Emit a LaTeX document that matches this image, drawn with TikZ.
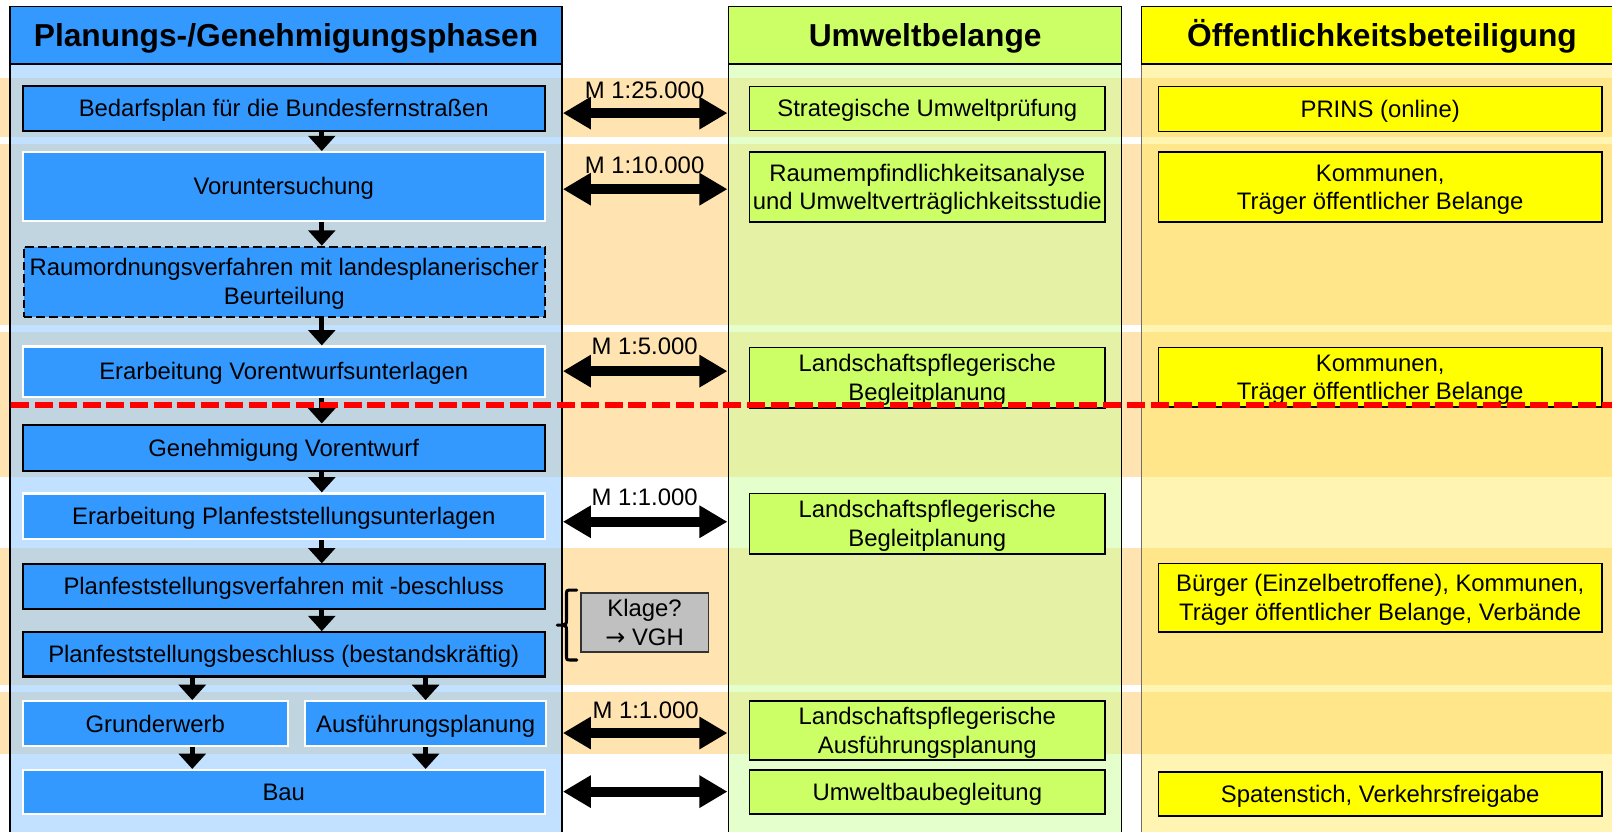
\documentclass[tikz,border=0pt]{standalone}
\usepackage{fontspec}
\setmainfont{Liberation Sans}
\newfontfamily\arrowfont{DejaVu Sans}
\usetikzlibrary{arrows.meta,calc}
\definecolor{bandorange}{RGB}{255,228,178}
\definecolor{blueA}{RGB}{51,153,255}
\definecolor{blueBody}{RGB}{153,204,255}
\definecolor{greenA}{RGB}{204,255,102}
\definecolor{greenBody}{RGB}{204,255,153}
\definecolor{yellowA}{RGB}{255,255,0}
\definecolor{yellowBody}{RGB}{255,233,102}
\definecolor{klagegray}{RGB}{192,192,192}
\definecolor{framegray}{RGB}{110,110,110}
\newcommand\pstrut{\rule[-0.212em]{0pt}{1.117em}}
\newcommand\bx[7]{\node[#1,minimum width={(#4-#2)*0.771pt},minimum height={(#5-#3)*0.771pt}] (#6) at ({(#2+#4)/2},{(#3+#5)/2}) {\pstrut#7\pstrut};}
\tikzset{
  txt/.style={font=\fontsize{17.9pt}{21.5pt}\selectfont, align=center, inner sep=0pt, text=black},
  hdr/.style={font=\fontsize{23.8pt}{28pt}\selectfont\bfseries, align=center, inner sep=0pt, draw=black, line width=1.2pt},
  phase/.style={txt, fill=blueA, line width=1.6pt},
  phaseblack/.style={phase, draw=black},
  phasewhite/.style={phase, draw=white},
  phasedash/.style={phase, draw=black, dash pattern=on 6.5pt off 3pt},
  envbox/.style={txt, fill=greenA, draw=black, line width=1.2pt},
  pubbox/.style={txt, fill=yellowA, draw=black, line width=1.2pt},
  klagebox/.style={txt, fill=klagegray, draw=black!80, line width=1.2pt},
  flow/.style={line width=4pt, -{Triangle[width=20pt,length=11.5pt]}},
  scalearrow/.style={line width=7.5pt, {Triangle[width=23pt,length=21pt]}-{Triangle[width=23pt,length=21pt]}},
  redline/.style={red, line width=4.3pt, dash pattern=on 13.5pt off 4.3pt},
  bandfill/.style={fill=bandorange},
  bracket/.style={line width=2.3pt, line cap=round},
}
\begin{document}
\begin{tikzpicture}[x=0.771pt,y=-0.771pt]
\useasboundingbox (0,0) rectangle (1568,809);
\clip (0,0) rectangle (1568,809);
% horizontal bands
\fill[bandfill] (0,76) rectangle (1568,133);
\fill[bandfill] (0,140) rectangle (1568,316);
\fill[bandfill] (0,323) rectangle (1568,464);
\fill[bandfill] (0,533) rectangle (1568,666);
\fill[bandfill] (0,673) rectangle (1568,733);
% column bodies
\fill[blueBody, fill opacity=0.6] (9.7,62) rectangle (546.7,815);
\fill[greenBody, fill opacity=0.5] (708.8,62) rectangle (1091,815);
\fill[yellowBody, fill opacity=0.5] (1110.5,62) rectangle (1590,815);
% column frames
\draw[black, line width=1.2pt] (9.7,62) -- (9.7,815) (546.7,62) -- (546.7,815);
\draw[black, line width=1.2pt] (708.8,62) -- (708.8,815) (1091,62) -- (1091,815);
\draw[framegray, line width=1.2pt] (1110.5,62) -- (1110.5,815);
% headers
\bx{hdr, fill=blueA}{9.7}{6.5}{546.7}{62}{h1}{Planungs-/Genehmigungsphasen}
\bx{hdr, fill=greenA}{708.8}{6.5}{1091}{62}{h2}{Umweltbelange}
\bx{hdr, fill=yellowA}{1110.5}{6.5}{1578}{62}{h3}{Öffentlichkeitsbeteiligung}
% phase boxes
\bx{phaseblack}{22}{84}{530}{127}{b1}{Bedarfsplan für die Bundesfernstraßen}
\bx{phasewhite}{22}{148}{530}{215}{b2}{Voruntersuchung}
\bx{phasedash}{23}{240}{530}{308}{b3}{Raumordnungsverfahren mit landesplanerischer\\Beurteilung}
\bx{phasewhite}{22}{337}{530}{386}{b4}{Erarbeitung Vorentwurfsunterlagen}
\bx{phaseblack}{22}{413}{530}{458}{b5}{Genehmigung Vorentwurf}
\bx{phasewhite}{22}{480}{530}{524}{b6}{Erarbeitung Planfeststellungsunterlagen}
\bx{phaseblack}{22}{549}{530}{592}{b7}{Planfeststellungsverfahren mit -beschluss}
\bx{phaseblack}{22}{615}{530}{658}{b8}{Planfeststellungsbeschluss (bestandskräftig)}
\bx{phasewhite}{22}{682}{280}{726}{gw}{Grunderwerb}
\bx{phasewhite}{297}{682}{531}{726}{ap}{Ausführungsplanung}
\bx{phasewhite}{22}{749}{530}{792}{bau}{Bau}
% environment boxes
\bx{envbox}{729}{84}{1075}{127}{g1}{Strategische Umweltprüfung}
\bx{envbox}{729}{148}{1075}{216}{g2}{Raumempfindlichkeitsanalyse\\und Umweltverträglichkeitsstudie}
\bx{envbox}{729}{338}{1075}{397}{g3}{Landschaftspflegerische\\Begleitplanung}
\bx{envbox}{729}{480}{1075}{539}{g4}{Landschaftspflegerische\\Begleitplanung}
\bx{envbox}{729}{682}{1075}{739}{g5}{Landschaftspflegerische\\Ausführungsplanung}
\bx{envbox}{729}{749}{1075}{792}{g6}{Umweltbaubegleitung}
% public boxes
\bx{pubbox}{1127}{84}{1558}{128}{p1}{PRINS (online)}
\bx{pubbox}{1127}{148}{1558}{216}{p2}{Kommunen,\\Träger öffentlicher Belange}
\bx{pubbox}{1127}{338}{1558}{396}{p3}{Kommunen,\\Träger öffentlicher Belange}
\bx{pubbox}{1127}{548}{1558}{615}{p4}{Bürger (Einzelbetroffene), Kommunen,\\Träger öffentlicher Belange, Verbände}
\bx{pubbox}{1127}{751}{1558}{794}{p5}{Spatenstich, Verkehrsfreigabe}
% Klage
\bx{klagebox}{565}{577}{689}{634}{kl}{Klage?\\{\arrowfont →} VGH}
\draw[bracket] (561,574) -- (556,574) .. controls (551,574) .. (551,579) -- (551,603)
  .. controls (551,607) .. (546,608) -- (542,608)
  (546,608) .. controls (551,609) .. (551,613) -- (551,637) .. controls (551,642) .. (556,642) -- (561,642);
% flow arrows
\coordinate (ax) at (313,0);
\coordinate (al) at (187,0);
\coordinate (ar) at (414,0);
\draw[flow] (b1.south -| ax) -- (b2.north -| ax);
\draw[flow] (b2.south -| ax) -- (b3.north -| ax);
\draw[flow] (b3.south -| ax) -- (b4.north -| ax);
\draw[flow] (b4.south -| ax) -- (b5.north -| ax);
\draw[flow] (b5.south -| ax) -- (b6.north -| ax);
\draw[flow] (b6.south -| ax) -- (b7.north -| ax);
\draw[flow] (b7.south -| ax) -- (b8.north -| ax);
\draw[flow] (b8.south -| al) -- (gw.north -| al);
\draw[flow] (b8.south -| ar) -- (ap.north -| ar);
\draw[flow] (gw.south -| al) -- (bau.north -| al);
\draw[flow] (ap.south -| ar) -- (bau.north -| ar);
% scale arrows
\foreach \n/\yy in {1/110,2/184,3/361,4/507.5,5/713,6/770}{
  \coordinate (s\n l) at (547.5,\yy);
  \coordinate (s\n r) at (707.6,\yy);
  \draw[scalearrow] (s\n l) -- (s\n r);
}
\node[txt] (m1) at (627,87.5) {M 1:25.000};
\node[txt] (m2) at (627,160.5) {M 1:10.000};
\node[txt] (m3) at (627,337) {M 1:5.000};
\node[txt] (m4) at (627,484) {M 1:1.000};
\node[txt] (m5) at (628,690.5) {M 1:1.000};
% red dashed line
\coordinate (rl) at (11,394);
\coordinate (rr) at (1568,394);
\draw[redline] (rl) -- (rr);
\end{tikzpicture}
\end{document}
